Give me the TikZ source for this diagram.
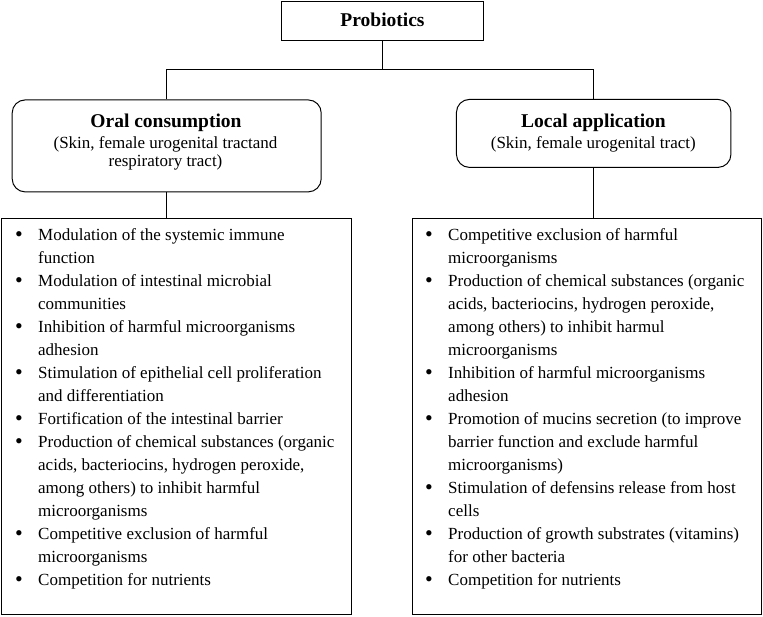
\documentclass[tikz,border=0pt]{standalone}
\usepackage{fontspec}
\setmainfont{Liberation Serif}
\usepackage{array}
\tikzset{
  boxline/.style={draw=black, line width=1pt},
  plainbox/.style={boxline, rectangle, inner sep=0pt},
  roundbox/.style={boxline, rectangle, rounded corners=13pt, inner sep=0pt},
  headtext/.style={font=\bfseries\fontsize{19.5}{23}\selectfont, inner sep=0pt, anchor=base},
  subtext/.style={font=\fontsize{17}{18}\selectfont, inner sep=0pt, anchor=base},
  listtext/.style={font=\fontsize{17}{23}\selectfont, inner sep=0pt, anchor=base west},
  conn/.style={draw=black, line width=1pt}
}
\newcommand{\bul}{\raisebox{-1.6pt}{\fontsize{22}{22}\selectfont\textbullet}}
\begin{document}
\begin{tikzpicture}[x=1pt,y=-1pt]
\useasboundingbox (0,0) rectangle (763,616);

% boxes
\node[plainbox, minimum width=201.5pt, minimum height=39.5pt] (P) at (382.5,21) {};
\node[roundbox, minimum width=309pt, minimum height=92pt] (L) at (166.7,145.9) {};
\node[roundbox, minimum width=274.5pt, minimum height=68pt] (R) at (593.7,133.4) {};
\node[plainbox, minimum width=350pt, minimum height=396pt] (LL) at (176,416) {};
\node[plainbox, minimum width=349pt, minimum height=395.5pt] (RL) at (587,416.3) {};

% texts
\node[headtext] (Pt) at (382.5,26.5) {Probiotics};
\node[headtext] (Lt) at (166,127.5) {Oral consumption};
\node[subtext] (Ls1) at (165.5,148) {(Skin, female urogenital tractand};
\node[subtext] (Ls2) at (165.5,166) {respiratory tract)};
\node[headtext] (Rt) at (593.5,127.5) {Local application};
\node[subtext] (Rs1) at (593.3,148) {(Skin, female urogenital tract)};

\node[listtext] (LLt) at (15,240) {%
\begin{tabular}[t]{@{}p{23pt}@{}l@{}}
\bul & Modulation of the systemic immune\\
 & function\\
\bul & Modulation of intestinal microbial\\
 & communities\\
\bul & Inhibition of harmful microorganisms\\
 & adhesion\\
\bul & Stimulation of epithelial cell proliferation\\
 & and differentiation\\
\bul & Fortification of the intestinal barrier\\
\bul & Production of chemical substances (organic\\
 & acids, bacteriocins, hydrogen peroxide,\\
 & among others) to inhibit harmful\\
 & microorganisms\\
\bul & Competitive exclusion of harmful\\
 & microorganisms\\
\bul & Competition for nutrients
\end{tabular}};

\node[listtext] (RLt) at (425,240) {%
\begin{tabular}[t]{@{}p{23pt}@{}l@{}}
\bul & Competitive exclusion of harmful\\
 & microorganisms\\
\bul & Production of chemical substances (organic\\
 & acids, bacteriocins, hydrogen peroxide,\\
 & among others) to inhibit harmul\\
 & microorganisms\\
\bul & Inhibition of harmful microorganisms\\
 & adhesion\\
\bul & Promotion of mucins secretion (to improve\\
 & barrier function and exclude harmful\\
 & microorganisms)\\
\bul & Stimulation of defensins release from host\\
 & cells\\
\bul & Production of growth substrates (vitamins)\\
 & for other bacteria\\
\bul & Competition for nutrients
\end{tabular}};

% connectors
\coordinate (J) at (382.5,69.5);
\draw[conn] (P.south) -- (J);
\draw[conn] (L.north) -- (L.north |- J) -- (R.north |- J) -- (R.north);
\draw[conn] (L.south) -- (L.south |- LL.north);
\draw[conn] (R.south) -- (R.south |- RL.north);
\end{tikzpicture}
\end{document}
